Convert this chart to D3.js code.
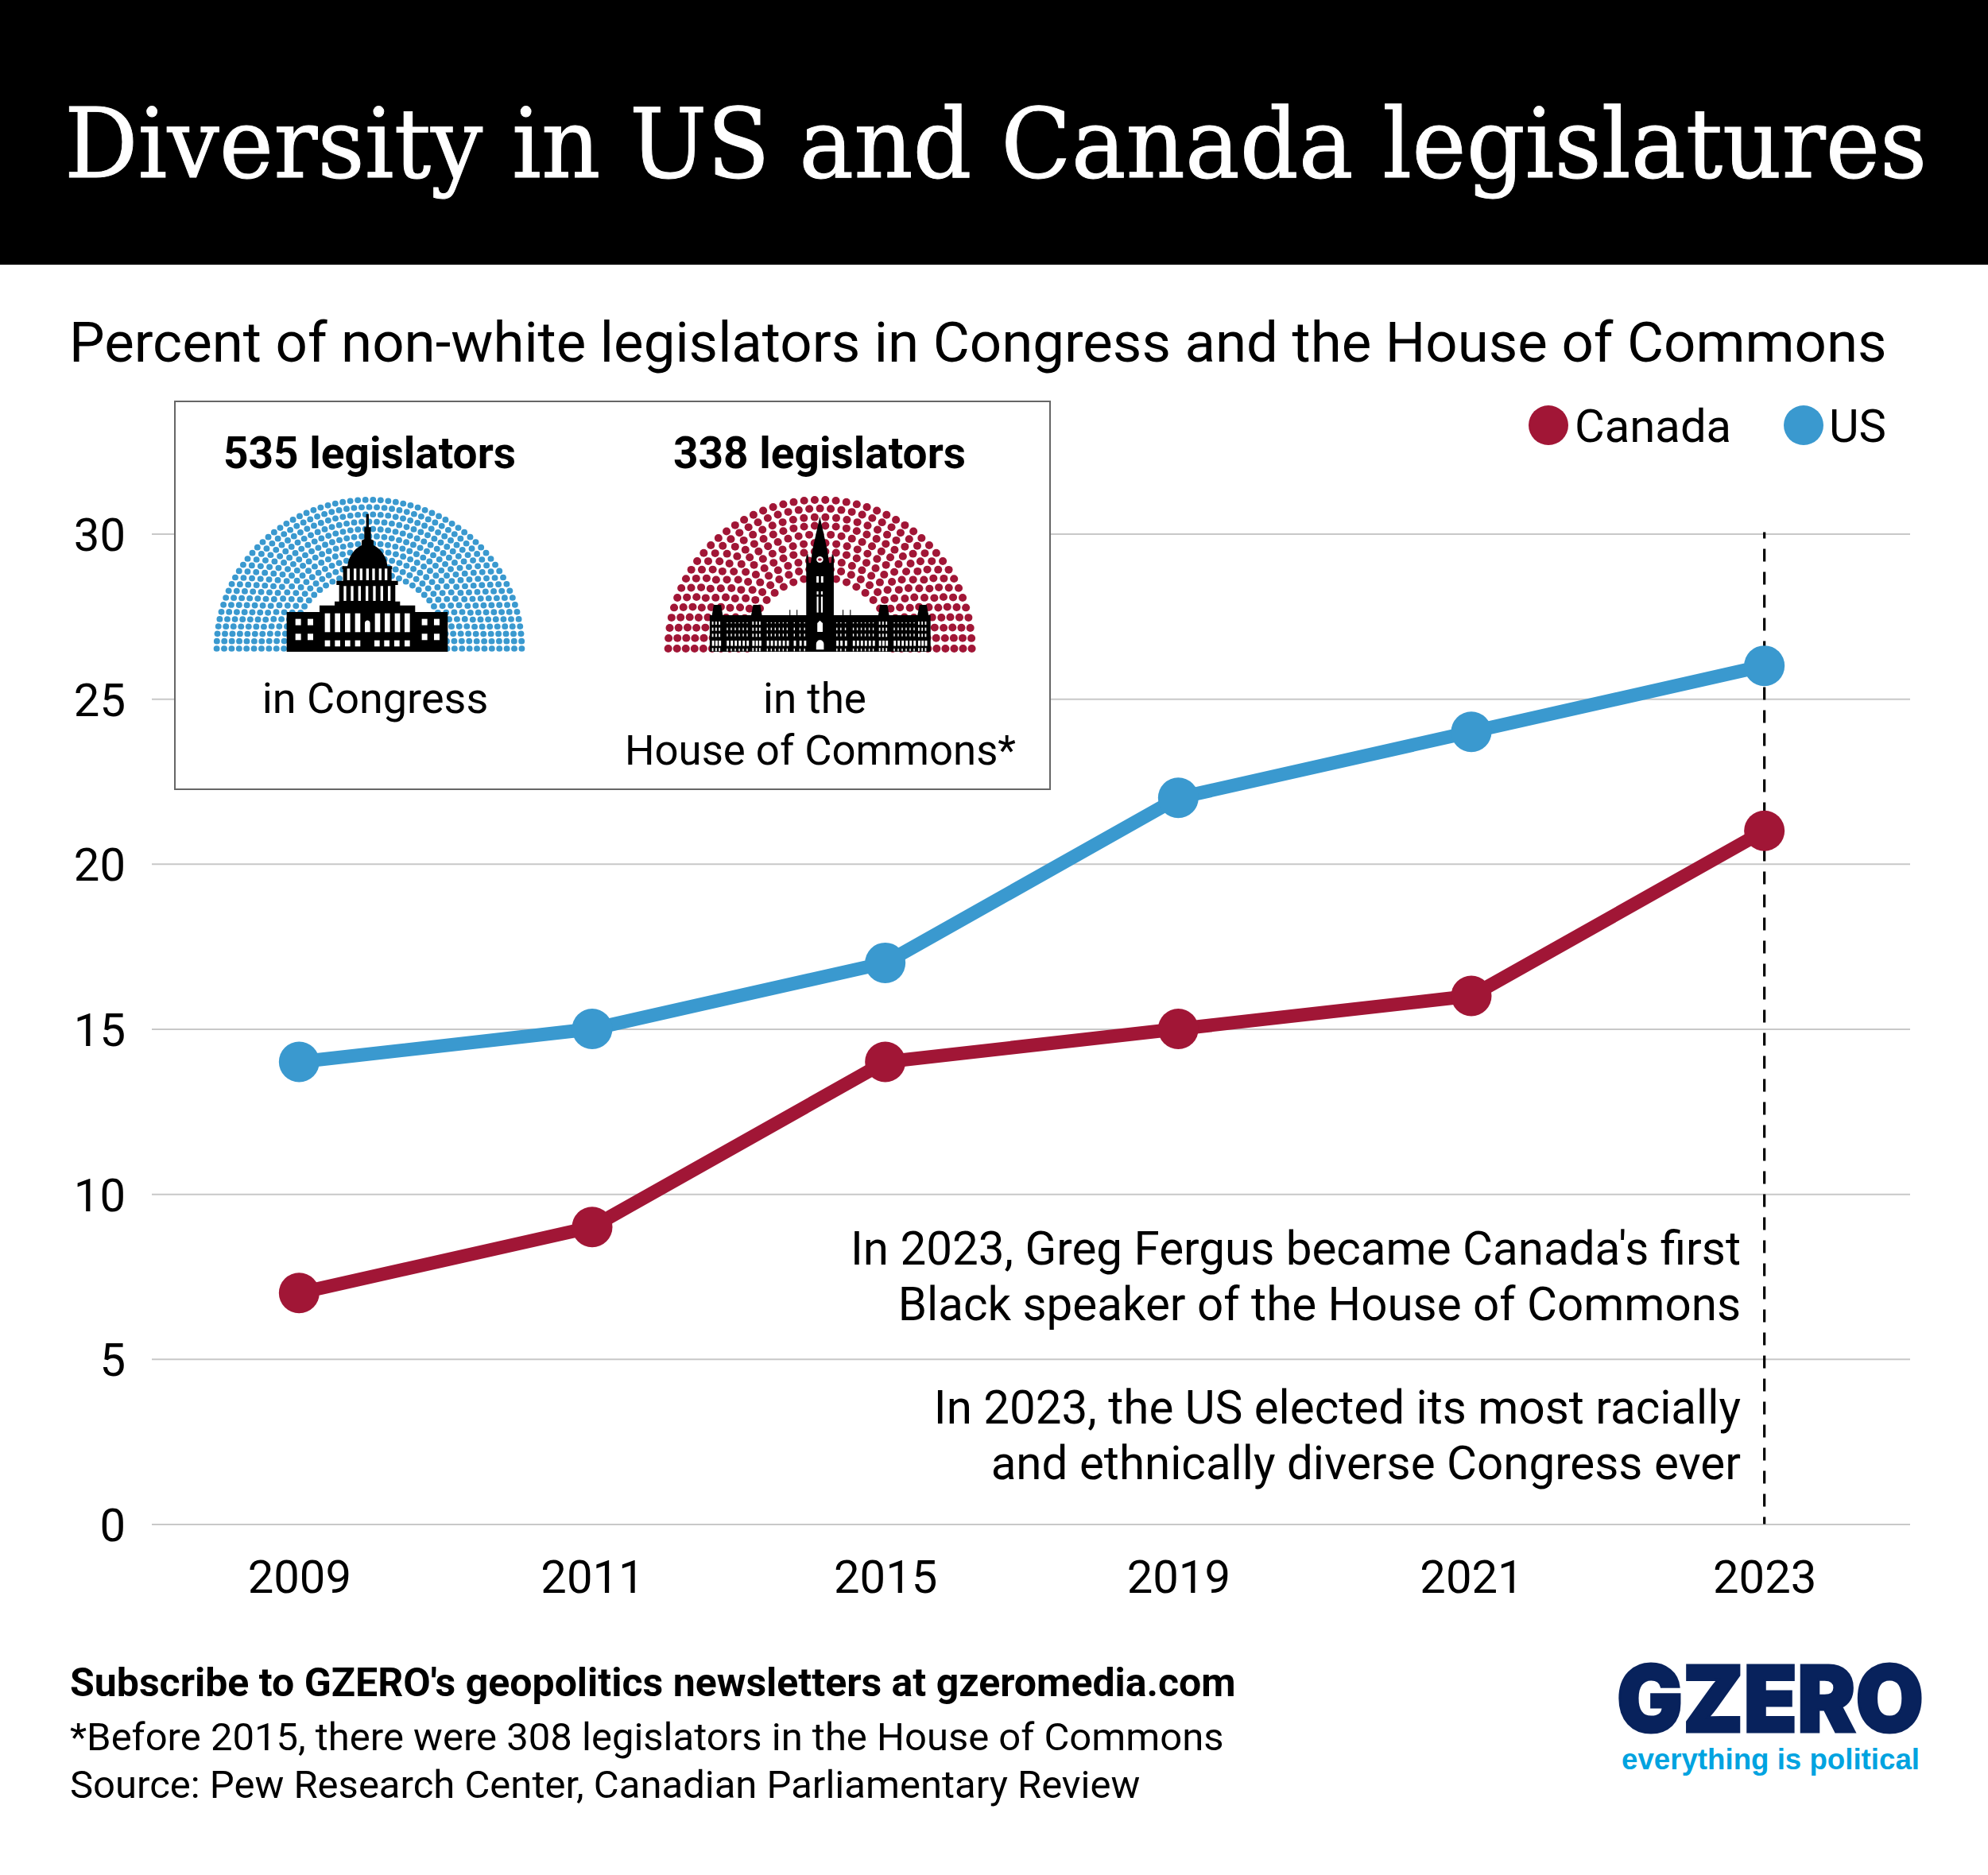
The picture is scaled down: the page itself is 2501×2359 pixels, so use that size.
<!DOCTYPE html>
<html>
<head>
<meta charset="utf-8">
<script src="https://cdn.jsdelivr.net/npm/d3@7"></script>
<style>
  html, body { margin: 0; padding: 0; background: #fff; }
  svg { display: block; }
  text { font-family: Roboto, sans-serif; fill: #000; }
</style>
</head>
<body>
<div id="chart"></div>
<script>
// Data
var years = ["2009", "2011", "2015", "2019", "2021", "2023"];
var canadaValues = [7, 9, 14, 15, 16, 21];
var usValues = [14, 15, 17, 22, 24, 26];
var yTicks = [0, 5, 10, 15, 20, 25, 30];
var seatCounts = [535, 338];
var seatRows = [11, 10];
var seatLabels = ["535 legislators", "338 legislators"];
var noteLines = [
  "In 2023, Greg Fergus became Canada's first",
  "Black speaker of the House of Commons",
  "In 2023, the US elected its most racially",
  "and ethnically diverse Congress ever"
];

var width = 2501, height = 2359;
var blue = "#3a99cf", red = "#a11636";

var svg = d3.select("#chart").append("svg")
    .attr("width", width)
    .attr("height", height);

svg.append("rect").attr("width", width).attr("height", height).attr("fill", "#fff");

// Header
svg.append("rect").attr("width", width).attr("height", 333).attr("fill", "#000");

// no slab font here, so DejaVu Serif squeezed to the title's width
svg.append("text")
    .attr("transform", "translate(81,223) scale(0.947,1)")
    .style("font-family", "'DejaVu Serif', serif")
    .style("font-size", "122px")
    .style("fill", "#fff")
    .style("stroke", "#fff")
    .style("stroke-width", 1)
    .text("Diversity in US and Canada legislatures");

svg.append("text")
    .attr("x", 87).attr("y", 455)
    .style("font-size", "70.8px")
    .text("Percent of non-white legislators in Congress and the House of Commons");

// Scales
var x = d3.scalePoint().domain(years).range([192, 2404]).padding(0.5);
var y = d3.scaleLinear().domain([0, 30]).range([1917.5, 671.5]);

// Axes
var yAxis = svg.append("g")
    .attr("transform", "translate(191,0)")
    .call(d3.axisLeft(y).tickValues(yTicks).tickSize(-2212).tickPadding(33));
yAxis.select(".domain").remove();
yAxis.selectAll("line").attr("stroke", "#c8c8c8").attr("stroke-width", 2);
yAxis.selectAll("text").attr("dy", "0.36em").style("font-size", "58px");

var xAxis = svg.append("g")
    .attr("transform", "translate(0,1917.5)")
    .call(d3.axisBottom(x).tickSize(0));
xAxis.select(".domain").remove();
xAxis.selectAll("text").attr("y", 86.5).attr("dy", 0).style("font-size", "58px");

// 2023 marker
svg.append("line")
    .attr("x1", x("2023")).attr("x2", x("2023"))
    .attr("y1", y(30) - 2).attr("y2", y(0))
    .attr("stroke", "#000").attr("stroke-width", 3.2)
    .attr("stroke-dasharray", "16 13").attr("stroke-dashoffset", 8);

// Lines and points
var line = d3.line().x(function(d, i) { return x(years[i]); }).y(function(d) { return y(d); });

[[canadaValues, red], [usValues, blue]].forEach(function(s) {
  svg.append("path")
      .attr("d", line(s[0]))
      .attr("fill", "none")
      .attr("stroke", s[1])
      .attr("stroke-width", 17);
  svg.selectAll(null)
      .data(s[0])
      .enter().append("circle")
      .attr("cx", function(d, i) { return x(years[i]); })
      .attr("cy", function(d) { return y(d); })
      .attr("r", 25.5)
      .attr("fill", s[1]);
});

// Legend
svg.append("circle").attr("cx", 1948).attr("cy", 535).attr("r", 25).attr("fill", red);
svg.append("text").attr("x", 1981).attr("y", 556).style("font-size", "58px").text("Canada");
svg.append("circle").attr("cx", 2269).attr("cy", 535).attr("r", 25).attr("fill", blue);
svg.append("text").attr("x", 2301).attr("y", 556).style("font-size", "58px").text("US");

// Notes
[1591, 1661, 1791, 1861].forEach(function(b, i) {
  svg.append("text")
      .attr("x", 2190).attr("y", b)
      .attr("text-anchor", "end")
      .style("font-size", "58.3px")
      .text(noteLines[i]);
});

// Inset box
svg.append("rect")
    .attr("x", 220).attr("y", 505)
    .attr("width", 1101).attr("height", 488)
    .attr("fill", "#fff").attr("stroke", "#666").attr("stroke-width", 2);

// spread seats over the rows by radius, largest remainder
function seats(total, rows, outer, step) {
  var radii = d3.range(rows).map(function(i) { return outer - i * step; });
  var sum = d3.sum(radii);
  var raw = radii.map(function(r) { return total * r / sum; });
  var counts = raw.map(Math.floor);
  var left = total - d3.sum(counts);
  d3.range(rows)
    .sort(function(a, b) { return (raw[b] - counts[b]) - (raw[a] - counts[a]); })
    .slice(0, left)
    .forEach(function(i) { counts[i]++; });
  var out = [];
  radii.forEach(function(r, i) {
    d3.range(counts[i]).forEach(function(j) {
      var a = Math.PI * j / (counts[i] - 1);
      out.push([-r * Math.cos(a), -r * Math.sin(a)]);
    });
  });
  return out;
}

svg.append("g").attr("transform", "translate(464.5,816) scale(1.01,0.985)")
  .selectAll("circle")
  .data(seats(seatCounts[0], seatRows[0], 190, 9.3))
  .enter().append("circle")
    .attr("cx", function(d) { return d[0]; })
    .attr("cy", function(d) { return d[1]; })
    .attr("r", 3.9)
    .attr("fill", blue);

svg.append("g").attr("transform", "translate(1031.6,816) scale(1.005,0.985)")
  .selectAll("circle")
  .data(seats(seatCounts[1], seatRows[1], 190, 11))
  .enter().append("circle")
    .attr("cx", function(d) { return d[0]; })
    .attr("cy", function(d) { return d[1]; })
    .attr("r", 5)
    .attr("fill", red);

// Capitol icon, drawn in its own 3x grid
var capitol = svg.append("g").attr("transform", "translate(210,500) scale(0.3333)");
capitol.append("path")
    .attr("fill", "#000")
    .attr("d", "M452 960V810H576V785H633V770H650V708H640V692H665V648H662V637H682C684 600 710 570 735 558V540L745 535V490H752V440H762V490H770V535L780 540V558C805 570 830 600 832 637H850V648H848V692H872V708H862V770H880V785H937V810H1060V960Z");

function holes(g, xs, ys, w, h) {
  ys.forEach(function(yy) {
    xs.forEach(function(xx) {
      g.append("rect").attr("x", xx).attr("y", yy).attr("width", w).attr("height", h).attr("fill", "#fff");
    });
  });
}
holes(capitol, [485, 531, 962, 1008], [836, 892], 21, 24);
holes(capitol, [596, 634, 672, 710, 785, 822, 860, 897], [815], 20, 71);
holes(capitol, [596, 634, 672, 710, 783, 820, 858, 897], [917], 20, 23);
holes(capitol, [667, 694, 722, 750, 778, 806, 834], [712], 10, 56);
holes(capitol, [680, 705, 728, 752, 775, 800, 822], [646], 10, 44);
capitol.append("path").attr("fill", "#fff")
    .attr("d", "M747 886V852C747 838 767 838 767 852V886Z");

// Parliament icon, drawn in its own grid
var parliament = svg.append("g").attr("transform", "translate(770,500) scale(0.35714,0.3333)");
parliament.append("path")
    .attr("fill", "#000")
    .attr("d", "M344 960V822H352L358 783H384L390 822H490L497 783H522L528 822H625V802H628V822H650V802H653V822H684V600L690 590L693 625H700L706 575L732 450L758 575L765 625H772L775 590L781 600V822H812V802H815V822H838V802H841V822H938L944 783H970L976 822H1076L1083 783H1108L1115 822H1122V960Z");

var towerCols = [352, 364, 376, 494, 506, 518, 940, 952, 964, 1078, 1090, 1102];
var midCols = [404, 418, 432, 446, 460, 474, 545, 559, 573, 587, 601, 615, 640, 660, 676,
  790, 804, 820, 848, 862, 876, 890, 904, 918, 992, 1006, 1020, 1034, 1048, 1062];
holes(parliament, towerCols, [846, 869, 892, 946], 5, 12);
holes(parliament, midCols, [849], 4, 4);
holes(parliament, midCols, [869, 892, 948], 4, 10);
holes(parliament, towerCols.concat(midCols), [918], 8, 20);
holes(parliament, [720, 736], [675], 8, 24);
holes(parliament, [721, 736], [732], 6, 12);
holes(parliament, [721, 736], [752], 6, 60);
parliament.append("ellipse").attr("cx", 732).attr("cy", 612).attr("rx", 12).attr("ry", 12).attr("fill", "#fff");
parliament.append("ellipse").attr("cx", 732).attr("cy", 612).attr("rx", 7).attr("ry", 5).attr("fill", red);
parliament.append("path").attr("fill", "#fff").attr("d", "M723 885V852L732 842L742 852V885Z");
parliament.append("path").attr("fill", "#fff").attr("d", "M719 952V932C719 910 746 910 746 932V952Z");

// Inset labels
[[465, 589, seatLabels[0]], [1031, 589, seatLabels[1]]].forEach(function(t) {
  svg.append("text")
      .attr("x", t[0]).attr("y", t[1])
      .attr("text-anchor", "middle")
      .style("font-size", "55px")
      .style("font-weight", 700)
      .text(t[2]);
});
[[472, 897, "in Congress", 54], [1025, 897, "in the", 53], [1032, 962, "House of Commons*", 52.7]].forEach(function(t) {
  svg.append("text")
      .attr("x", t[0]).attr("y", t[1])
      .attr("text-anchor", "middle")
      .style("font-size", t[3] + "px")
      .text(t[2]);
});

// Footer
svg.append("text")
    .attr("x", 88).attr("y", 2134)
    .style("font-size", "50px").style("font-weight", 700)
    .text("Subscribe to GZERO's geopolitics newsletters at gzeromedia.com");
svg.append("text")
    .attr("x", 88).attr("y", 2202)
    .style("font-size", "49px")
    .text("*Before 2015, there were 308 legislators in the House of Commons");
svg.append("text")
    .attr("x", 88).attr("y", 2262)
    .style("font-size", "49px")
    .text("Source: Pew Research Center, Canadian Parliamentary Review");

// Logo
svg.append("text")
    .attr("x", 2034).attr("y", 2179)
    .attr("textLength", 386).attr("lengthAdjust", "spacingAndGlyphs")
    .style("font-family", "Inter, sans-serif")
    .style("font-size", "116px").style("font-weight", 900)
    .style("fill", "#08225c").style("stroke", "#08225c").style("stroke-width", 3)
    .text("GZERO");
svg.append("text")
    .attr("x", 2040).attr("y", 2226)
    .attr("textLength", 375).attr("lengthAdjust", "spacingAndGlyphs")
    .style("font-family", "'Liberation Sans', sans-serif")
    .style("font-size", "37px").style("font-weight", 700)
    .style("fill", "#00a3e0")
    .text("everything is political");
</script>
</body>
</html>
